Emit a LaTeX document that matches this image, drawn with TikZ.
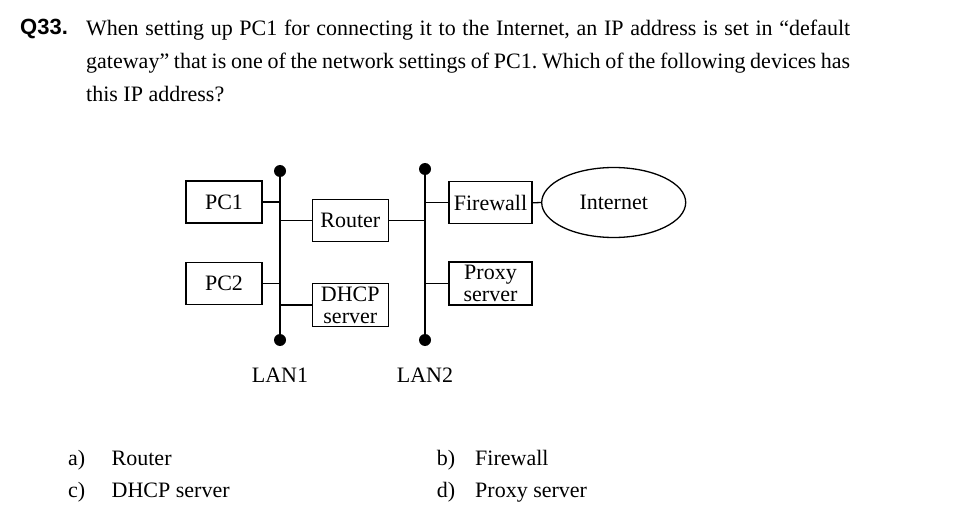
\documentclass[tikz,border=0pt]{standalone}
\usepackage{fontspec}
\setmainfont{Liberation Serif}
\newfontfamily\qfont{Liberation Sans}
\usetikzlibrary{positioning}
\usetikzlibrary{shapes.geometric}
\frenchspacing

\begin{document}
\begin{tikzpicture}[x=1pt,y=-1pt,
    txt/.style={font=\fontsize{22}{33}\selectfont,inner sep=0pt},
    dev/.style={draw,line width=1.3pt,inner sep=0pt,align=center,
      font=\fontsize{22}{22}\selectfont,minimum height=42pt},
    bus/.style={line width=1.4pt},
    wire/.style={line width=1.3pt}]
  \useasboundingbox (0,0) rectangle (978,516);
  \node[txt,anchor=base west,font=\qfont\bfseries\fontsize{22}{33}\selectfont] (qnum) at (20,35) {Q33.};
  \node[txt,anchor=north west,text width=764pt,align=justify] (question) at (86,19.5)
    {When setting up PC1 for connecting it to the Internet, an IP address is set in “default\linebreak
     gateway” that is one of the network settings of PC1. Which of the following devices has\linebreak
     this IP address?};
  \coordinate (lan1top) at (280,171);
  \coordinate (lan1bot) at (280,340);
  \coordinate (lan2top) at (425,169);
  \coordinate (lan2bot) at (425,340);
  \draw[bus] (lan1top) -- (lan1bot);
  \draw[bus] (lan2top) -- (lan2bot);
  \foreach \p in {lan1top,lan1bot,lan2top,lan2bot}
    \fill (\p) circle (6pt);
  \node[dev,minimum width=76pt] (pc1) at (224,202) {PC1};
  \node[dev,minimum width=76pt] (pc2) at (224,283.7) {PC2};
  \node[dev,minimum width=76pt] (router) at (350.3,220.5) {Router};
  \node[dev,minimum width=76pt,minimum height=43pt] (dhcp) at (350.3,305) {DHCP\\server};
  \node[dev,minimum width=83pt] (firewall) at (490.5,202.8) {Firewall};
  \node[dev,minimum width=83pt,minimum height=43pt] (proxy) at (490.5,283.4) {Proxy\\server};
  \node[draw,ellipse,line width=1.3pt,minimum width=144pt,minimum height=70pt,inner sep=0pt,
    font=\fontsize{22}{22}\selectfont] (internet) at (613.7,202.5) {Internet};
  \draw[wire] (pc1.east) -- (pc1.east -| lan1top);
  \draw[wire] (pc2.east) -- (pc2.east -| lan1top);
  \draw[wire] (router.west) -- (router.west -| lan1top);
  \draw[wire] (dhcp.west) -- (dhcp.west -| lan1top);
  \draw[wire] (router.east) -- (router.east -| lan2top);
  \draw[wire] (firewall.west) -- (firewall.west -| lan2top);
  \draw[wire] (proxy.west) -- (proxy.west -| lan2top);
  \draw[wire] (firewall.east) -- (internet.west);
  \node[txt,anchor=base] (lan1) at (280,382) {LAN1};
  \node[txt,anchor=base] (lan2) at (425,382) {LAN2};
  \node[txt,anchor=base west] (opta) at (68,465) {a)};
  \node[txt,anchor=base west] (ansa) at (111.5,465) {Router};
  \node[txt,anchor=base west] (optb) at (436.7,465) {b)};
  \node[txt,anchor=base west] (ansb) at (475,465) {Firewall};
  \node[txt,anchor=base west] (optc) at (68,497.5) {c)};
  \node[txt,anchor=base west] (ansc) at (111.5,497.5) {DHCP server};
  \node[txt,anchor=base west] (optd) at (436.7,497.5) {d)};
  \node[txt,anchor=base west] (ansd) at (475,497.5) {Proxy server};
\end{tikzpicture}
\end{document}
